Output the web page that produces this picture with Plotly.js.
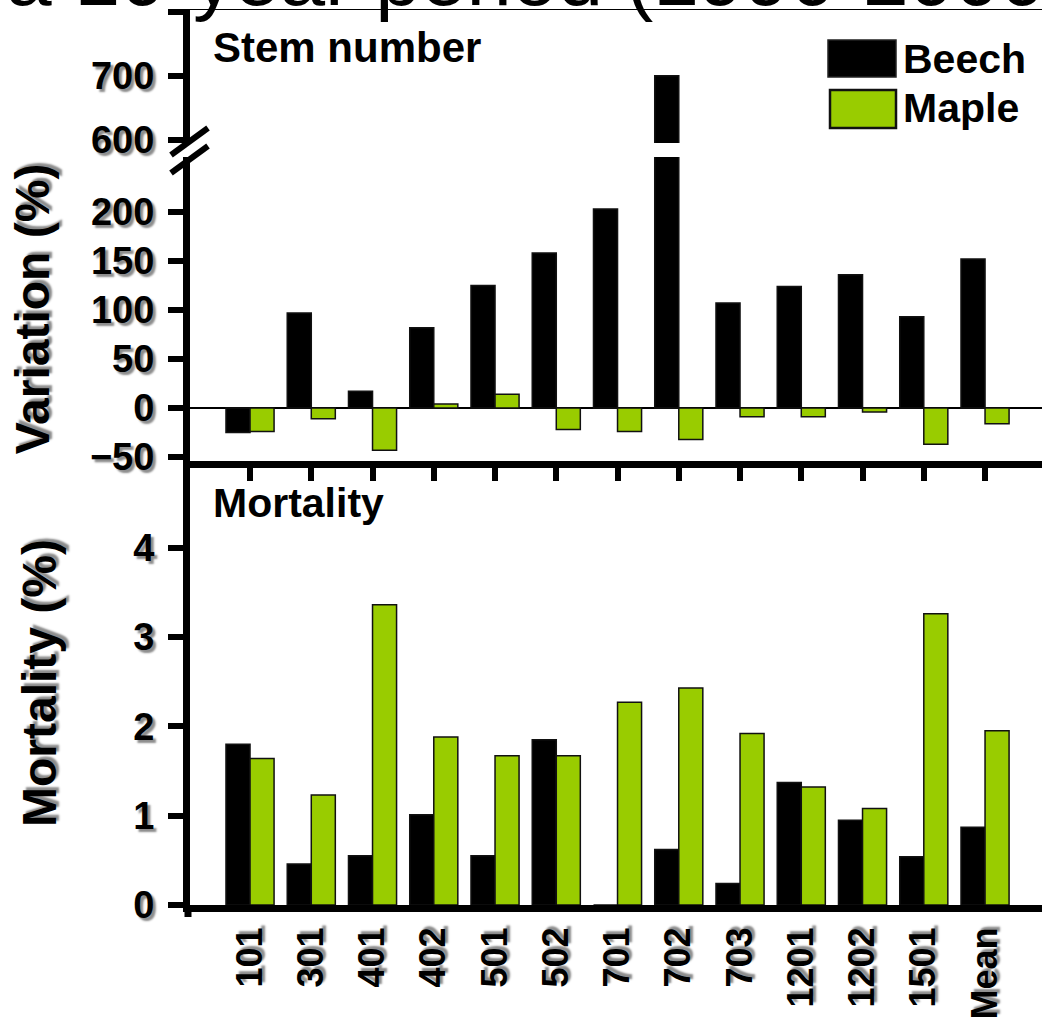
<!DOCTYPE html>
<html>
<head>
<meta charset="utf-8">
<script src="https://cdn.plot.ly/plotly-3.0.1.min.js"></script>
<style>
  html, body { margin: 0; padding: 0; background: #ffffff; }
  #chart { width: 1042px; height: 1025px; }
</style>
</head>
<body>
<div id="chart"></div>
<script>
// ---------- data ----------
const categories = ['101', '301', '401', '402', '501', '502', '701', '702', '703', '1201', '1202', '1501', 'Mean'];
const beechStem = [-25, 97, 17, 82, 125, 158, 203, 700, 107, 124, 136, 93, 152];
const mapleStem = [-24, -11, -43, 4, 14, -22, -24, -32, -9, -9, -4, -37, -16];
const beechMort = [1.80, 0.46, 0.55, 1.01, 0.55, 1.85, 0, 0.62, 0.24, 1.37, 0.95, 0.54, 0.87];
const mapleMort = [1.64, 1.23, 3.36, 1.88, 1.67, 1.67, 2.27, 2.43, 1.92, 1.32, 1.08, 3.26, 1.95];
const seriesNames = ['Beech', 'Maple'];
const lowerStemTicks = [-50, 0, 50, 100, 150, 200];
const upperStemTicks = [600, 700, 800];
const upperStemTickText = ['600', '700', ''];
const mortTicks = [0, 1, 2, 3, 4];

// ---------- styling helpers ----------
const W = 1042, H = 1025, ML = 190;
const BEECH = '#000000', MAPLE = '#99cc00';
const FONT = 'Liberation Sans, Arial, sans-serif';
const SHADOW = '3px 3px 2px #8c8c8c';
const fy = px => 1 - px / H;               // page pixel -> paper y
const fx = px => (px - ML) / (W - ML);     // page pixel -> paper x

const tickFont = { family: FONT, size: 38, color: '#000', weight: 'bold', shadow: SHADOW };
const xTickFont = { family: FONT, size: 36, color: '#000', weight: 'bold', shadow: SHADOW };
const titleFont = { family: FONT, size: 48, color: '#000', weight: 'bold', shadow: SHADOW };

function bar(y, name, color, xa, ya) {
  return {
    type: 'bar', x: categories, y: y, name: name, xaxis: xa, yaxis: ya,
    offsetgroup: name, showlegend: false,
    marker: { color: color, line: { color: '#111', width: 1.5 } },
    hoverinfo: 'x+y+name'
  };
}

const traces = [
  bar(beechStem, seriesNames[0], BEECH, 'x', 'y'),
  bar(mapleStem, seriesNames[1], MAPLE, 'x', 'y'),
  bar(beechStem, seriesNames[0], BEECH, 'x3', 'y3'),
  bar(mapleStem, seriesNames[1], MAPLE, 'x3', 'y3'),
  bar(beechMort, seriesNames[0], BEECH, 'x2', 'y2'),
  bar(mapleMort, seriesNames[1], MAPLE, 'x2', 'y2')
];

const xRange = [-0.98, 12.93];
const baseX = {
  type: 'category', categoryorder: 'array', categoryarray: categories,
  range: xRange, domain: [0, 1], showgrid: false, zeroline: false, fixedrange: true
};

const layout = {
  width: W, height: H,
  margin: { l: ML, r: 0, t: 0, b: 0, pad: 0 },
  paper_bgcolor: '#ffffff', plot_bgcolor: 'rgba(0,0,0,0)',
  barmode: 'group', bargap: 0.215, bargroupgap: 0,
  showlegend: false,
  font: { family: FONT, color: '#000' },
  // top panel, lower segment
  xaxis: Object.assign({}, baseX, {
    anchor: 'y', showline: true, linewidth: 7, linecolor: '#000',
    ticks: 'outside', ticklen: 13, tickwidth: 6, tickcolor: '#000',
    showticklabels: false
  }),
  yaxis: {
    domain: [fy(461), fy(157)], range: [-54, 256], anchor: 'x',
    tickvals: lowerStemTicks, ticks: 'outside', ticklen: 15, tickwidth: 6, tickcolor: '#000',
    ticklabelstandoff: 6,
    showline: true, linewidth: 7, linecolor: '#000', showgrid: false,
    zeroline: true, zerolinecolor: '#000', zerolinewidth: 2,
    tickfont: tickFont, fixedrange: true,
    title: { text: 'Variation (%)', font: titleFont, standoff: 28 }
  },
  // top panel, upper segment (broken axis)
  xaxis3: Object.assign({}, baseX, {
    anchor: 'y3', side: 'top', showline: true, linewidth: 1.5, linecolor: '#000',
    ticks: '', showticklabels: false
  }),
  yaxis3: {
    domain: [fy(143), fy(10)], range: [595, 803], anchor: 'x3',
    tickvals: upperStemTicks, ticktext: upperStemTickText,
    ticks: 'outside', ticklen: 15, tickwidth: 6, tickcolor: '#000',
    ticklabelstandoff: 6,
    showline: true, linewidth: 7, linecolor: '#000', showgrid: false, zeroline: false,
    tickfont: tickFont, fixedrange: true
  },
  // bottom panel
  xaxis2: Object.assign({}, baseX, {
    anchor: 'y2', showline: true, linewidth: 7, linecolor: '#000',
    ticks: '', tickangle: -90, tickfont: xTickFont, ticklabelstandoff: 1
  }),
  yaxis2: {
    domain: [fy(905), fy(461)], range: [0, 4.97], anchor: 'x2',
    tickvals: mortTicks, ticks: 'outside', ticklen: 15, tickwidth: 6, tickcolor: '#000',
    ticklabelstandoff: 6,
    showline: true, linewidth: 7, linecolor: '#000', showgrid: false, zeroline: false,
    tickfont: tickFont, fixedrange: true,
    title: { text: 'Mortality (%)', font: titleFont, standoff: 64 }
  },
  shapes: [
    // axis break marks
    { type: 'line', xref: 'paper', yref: 'paper', x0: fx(171), y0: fy(155), x1: fx(208), y1: fy(128), line: { color: '#000', width: 6 } },
    { type: 'line', xref: 'paper', yref: 'paper', x0: fx(171), y0: fy(173), x1: fx(208), y1: fy(146), line: { color: '#000', width: 6 } },
    // y-axis stub below the bottom axis
    { type: 'line', xref: 'paper', yref: 'paper', x0: fx(188), y0: fy(905), x1: fx(188), y1: fy(917), line: { color: '#000', width: 7 } },
    // legend swatches
    { type: 'rect', xref: 'paper', yref: 'paper', x0: fx(828), y0: fy(77), x1: fx(896), y1: fy(40), fillcolor: BEECH, line: { color: '#222', width: 1.5 } },
    { type: 'rect', xref: 'paper', yref: 'paper', x0: fx(830), y0: fy(128), x1: fx(896), y1: fy(90), fillcolor: MAPLE, line: { color: '#111', width: 2.5 } }
  ],
  annotations: [
    { text: 'a 10-year period (1990-2000)', xref: 'paper', yref: 'paper', x: fx(4), y: fy(-23),
      xanchor: 'left', yanchor: 'middle', showarrow: false,
      font: { family: FONT, size: 82, color: '#000' } },
    { text: 'Stem number', xref: 'paper', yref: 'paper', x: fx(211), y: fy(47),
      xanchor: 'left', yanchor: 'middle', showarrow: false,
      font: { family: FONT, size: 42, color: '#000', weight: 'bold' } },
    { text: 'Mortality', xref: 'paper', yref: 'paper', x: fx(211), y: fy(503),
      xanchor: 'left', yanchor: 'middle', showarrow: false,
      font: { family: FONT, size: 41, color: '#000', weight: 'bold' } },
    { text: seriesNames[0], xref: 'paper', yref: 'paper', x: fx(901), y: fy(59),
      xanchor: 'left', yanchor: 'middle', showarrow: false,
      font: { family: FONT, size: 41, color: '#000', weight: 'bold' } },
    { text: seriesNames[1], xref: 'paper', yref: 'paper', x: fx(901), y: fy(108),
      xanchor: 'left', yanchor: 'middle', showarrow: false,
      font: { family: FONT, size: 41, color: '#000', weight: 'bold' } }
  ]
};

Plotly.newPlot('chart', traces, layout, { displayModeBar: false, staticPlot: true });
</script>
</body>
</html>
